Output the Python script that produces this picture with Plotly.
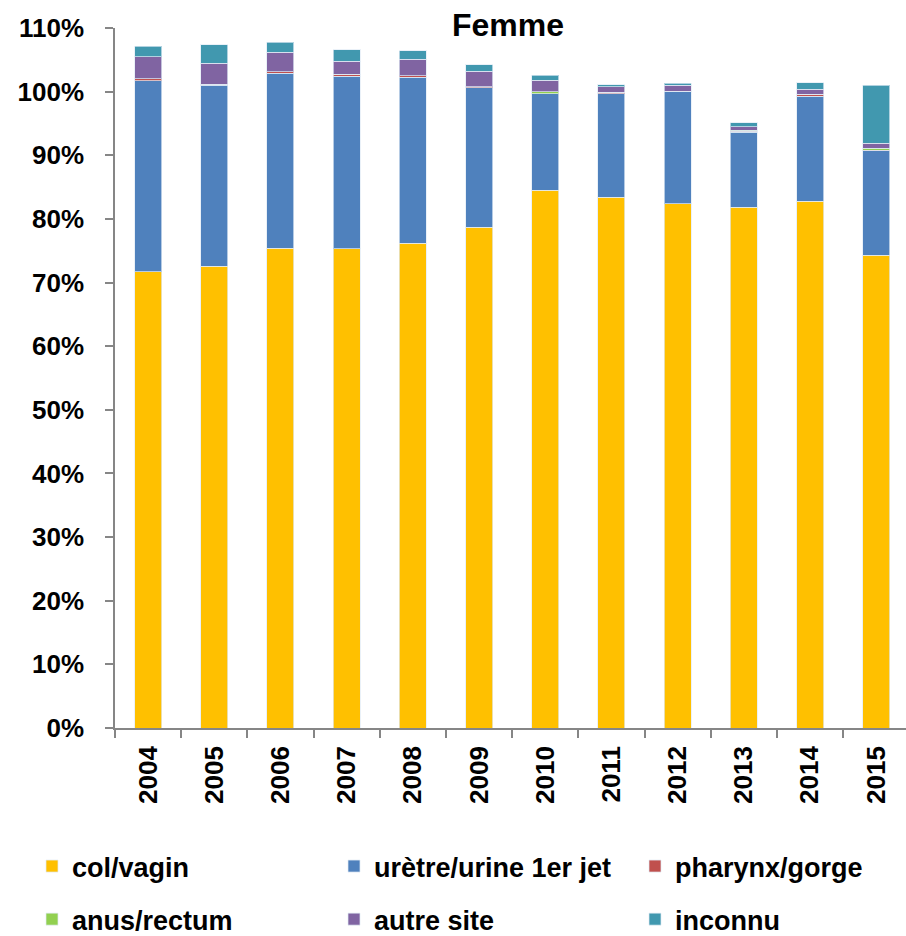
import plotly.graph_objects as go

years = ["2004", "2005", "2006", "2007", "2008", "2009", "2010", "2011", "2012", "2013", "2014", "2015"]
col_vagin = [71.7, 72.6, 75.4, 75.3, 76.2, 78.7, 84.5, 83.4, 82.4, 81.8, 82.8, 74.3]
uretre = [30.0, 28.4, 27.5, 27.1, 26.1, 21.9, 15.2, 16.3, 17.6, 11.8, 16.5, 16.4]
pharynx = [0.3, 0.2, 0.2, 0.3, 0.2, 0.2, 0.0, 0.2, 0.1, 0.2, 0.3, 0.1]
anus = [0.0, 0.0, 0.0, 0.0, 0.0, 0.0, 0.3, 0.0, 0.0, 0.1, 0.0, 0.3]
autre = [3.5, 3.3, 3.1, 2.1, 2.6, 2.4, 1.8, 0.9, 0.9, 0.6, 0.8, 0.8]
inconnu = [1.6, 2.9, 1.6, 1.8, 1.3, 1.0, 0.8, 0.3, 0.3, 0.6, 1.0, 9.1]

y_ticks = list(range(0, 111, 10))

# (name, values, colour, legend column)
series = [
    ("col/vagin", col_vagin, "#FFC000", "legend"),
    ("urètre/urine 1er jet", uretre, "#4F81BD", "legend2"),
    ("pharynx/gorge", pharynx, "#C0504D", "legend3"),
    ("anus/rectum", anus, "#92D050", "legend"),
    ("autre site", autre, "#8064A2", "legend2"),
    ("inconnu", inconnu, "#4198AF", "legend3"),
]

FONT = "Liberation Sans, Arial, sans-serif"

fig = go.Figure()
for name, vals, color, lg in series:
    fig.add_trace(go.Bar(
        x=years, y=vals, name=f"<b>{name}</b>", legend=lg, legendgroup=name,
        marker=dict(color=color, line=dict(color="rgba(225,235,245,0.7)", width=1)),
    ))

W, H = 906, 936
leg_common = dict(orientation="v", xanchor="left", yanchor="top",
                  xref="container", yref="container",
                  traceorder="grouped", tracegroupgap=15,
                  font=dict(family=FONT, size=27, color="#000000"),
                  bgcolor="rgba(0,0,0,0)", y=1 - 842 / H)

fig.update_layout(
    barmode="stack",
    bargap=0.592,
    width=W, height=H,
    paper_bgcolor="white", plot_bgcolor="white",
    margin=dict(l=115, r=0, t=28, b=208, autoexpand=False),
    title=dict(text="<b>Femme</b>", x=508 / W, xanchor="center", y=1 - 25 / H, yanchor="middle",
               font=dict(family=FONT, size=32, color="#000000")),
    showlegend=True,
    legend=dict(x=32 / W, **leg_common),
    legend2=dict(x=334 / W, **leg_common),
    legend3=dict(x=635 / W, **leg_common),
    xaxis=dict(
        type="category", range=[-0.5, 11.45], automargin=False,
        showline=True, linecolor="#868686", linewidth=1.5,
        ticks="outside", tickson="boundaries", ticklen=8, tickcolor="#868686", tickwidth=1.5,
        tickangle=-90, tickfont=dict(family=FONT, size=26, color="#000"),
        ticklabelstandoff=6,
        labelalias={y: f"<b>{y}</b>" for y in years},
        showgrid=False,
    ),
    yaxis=dict(
        range=[0, 110], automargin=False,
        tickvals=y_ticks, ticktext=[f"<b>{v}%</b>" for v in y_ticks],
        showline=True, linecolor="#868686", linewidth=1.5,
        ticks="outside", ticklen=8, tickcolor="#868686", tickwidth=1.5,
        tickfont=dict(family=FONT, size=26, color="#000"),
        ticklabelstandoff=16,
        showgrid=False, zeroline=False,
    ),
)

fig.write_html(
    "out.html",
    config={"displayModeBar": False},
    post_script=(
        "document.body.style.margin='0';"
        "document.documentElement.style.overflow='hidden';"
        "var gd=document.getElementById('{plot_id}');"
        "gd.style.position='fixed';gd.style.top='0px';gd.style.left='0px';"
    ),
)
